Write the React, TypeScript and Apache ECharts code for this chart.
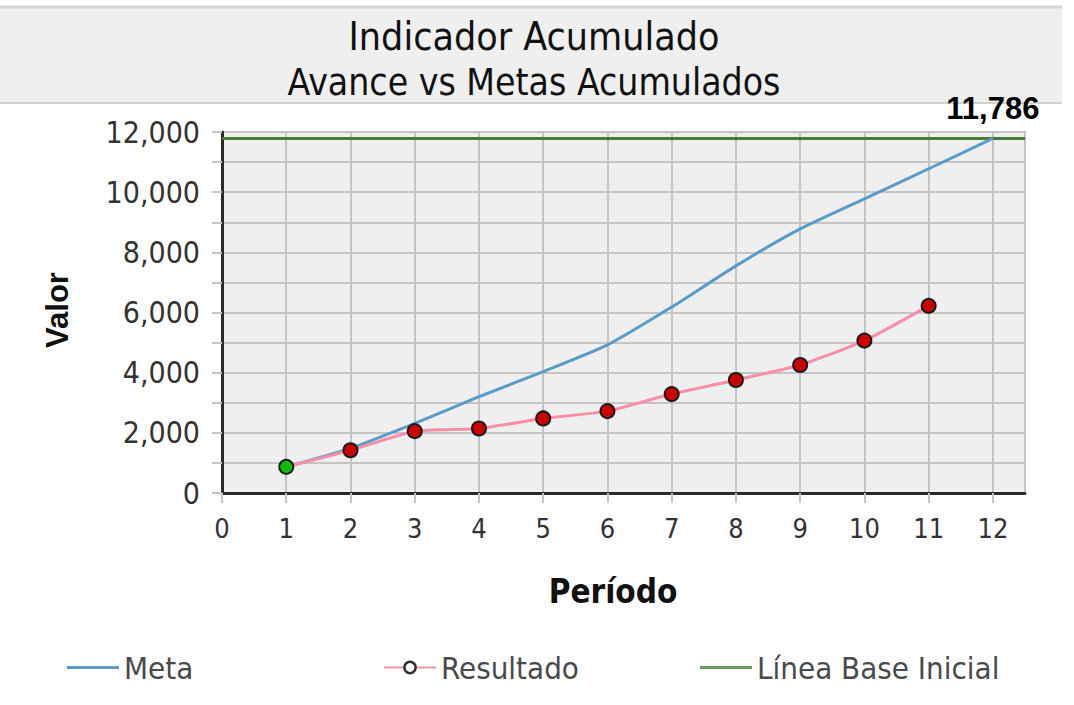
import React, { useEffect, useRef } from "react";
import * as echarts from "echarts";

const META_PERIODS = [1, 2, 3, 4, 5, 6, 7, 8, 9, 10, 11, 12];
const META_VALUES = [870, 1480, 2311, 3200, 4033, 4922, 6180, 7550, 8778, 9778, 10778, 11786];
const RESULT_PERIODS = [1, 2, 3, 4, 5, 6, 7, 8, 9, 10, 11];
const RESULT_VALUES = [870, 1420, 2055, 2144, 2478, 2722, 3289, 3756, 4256, 5067, 6222];
const BASELINE = 11786;
const X_MIN = 0;
const X_MAX = 12.5;
const Y_MIN = 0;
const Y_MAX = 12000;
const LABEL_PERIOD = 12;

const TITLE = "Indicador Acumulado";
const SUBTITLE = "Avance vs Metas Acumulados";
const X_NAME = "Período";
const Y_NAME = "Valor";
const NAMES = ["Meta", "Resultado", "Línea Base Inicial"];

const COND = '"DejaVu Sans Condensed", "DejaVu Sans", sans-serif';
const ARIAL = '"Liberation Sans", Arial, sans-serif';

export default function App() {
  const ref = useRef<HTMLDivElement>(null);
  useEffect(() => {
    if (!ref.current) return;
    const chart = echarts.init(ref.current, undefined, { renderer: "svg" });
    const fmt = (v: number) => v.toLocaleString("en-US");
    const legendBase = {
      top: 652,
      itemWidth: 52,
      itemHeight: 14,
      itemGap: 0,
      padding: 0,
      selectedMode: false,
      textStyle: { fontFamily: COND, fontSize: 31, color: "#4a4a4a", padding: [0, 0, 0, 0] },
    };
    const lineLegend = { ...legendBase, icon: "rect", itemHeight: 3 };
    chart.setOption({
      animation: false,
      backgroundColor: "#ffffff",
      grid: {
        left: 222,
        right: 49,
        top: 132,
        bottom: 212,
        show: true,
        backgroundColor: "#efefef",
        borderColor: "#cccccc",
        borderWidth: 2,
      },
      graphic: [
        { type: "rect", shape: { x: 0, y: 6, width: 1062, height: 97 }, style: { fill: "#efefef" }, silent: true },
        { type: "line", shape: { x1: 0, y1: 7, x2: 1062, y2: 7 }, style: { stroke: "#d6d6d6", lineWidth: 3 }, silent: true },
        { type: "line", shape: { x1: 0, y1: 103, x2: 1062, y2: 103 }, style: { stroke: "#d0d0d0", lineWidth: 2 }, silent: true },
        {
          type: "text", x: 534, y: 36, silent: true,
          style: { text: TITLE, fontFamily: COND, fontSize: 39, fill: "#111", align: "center", verticalAlign: "middle" },
        },
        {
          type: "text", x: 534, y: 82, silent: true,
          style: { text: SUBTITLE, fontFamily: COND, fontSize: 37, fill: "#111", align: "center", verticalAlign: "middle" },
        },
        {
          type: "text", x: 613, y: 591, silent: true,
          style: { text: X_NAME, fontFamily: COND, fontSize: 33, fontWeight: "bold", fill: "#111", align: "center", verticalAlign: "middle" },
        },
        {
          type: "text", x: 57, y: 310, rotation: Math.PI / 2, silent: true,
          style: { text: Y_NAME, fontFamily: ARIAL, fontSize: 31, fontWeight: "bold", fill: "#111", align: "center", verticalAlign: "middle" },
        },
      ],
      legend: [
        { ...lineLegend, left: 67, data: [{ name: NAMES[0] }] },
        {
          ...legendBase,
          left: 383,
          data: [{ name: NAMES[1], itemStyle: { color: "#ffffff", borderColor: "#333333", borderWidth: 2.5 } }],
        },
        { ...lineLegend, left: 700, data: [{ name: NAMES[2] }] },
      ],
      xAxis: {
        type: "value",
        min: X_MIN,
        max: X_MAX,
        interval: 1,
        axisLine: { show: true, onZero: false, lineStyle: { color: "#2a2a2a", width: 3 } },
        axisTick: { show: true, length: 10, lineStyle: { color: "#c4c4c4", width: 2 } },
        splitLine: { show: true, lineStyle: { color: "#c4c4c4", width: 2 } },
        axisLabel: {
          margin: 22,
          fontFamily: COND,
          fontSize: 27,
          color: "#333",
          showMaxLabel: false,
          formatter: (v: number) => (Number.isInteger(v) ? String(v) : ""),
        },
      },
      yAxis: {
        type: "value",
        min: Y_MIN,
        max: Y_MAX,
        interval: 1000,
        axisLine: { show: true, lineStyle: { color: "#2a2a2a", width: 3 } },
        axisTick: { show: true, length: 10, lineStyle: { color: "#c4c4c4", width: 2 } },
        splitLine: { show: true, lineStyle: { color: "#c4c4c4", width: 2 } },
        axisLabel: {
          margin: 22,
          fontFamily: COND,
          fontSize: 30,
          color: "#333",
          formatter: (v: number) => (v % 2000 === 0 ? fmt(v) : ""),
        },
      },
      series: [
        {
          name: NAMES[0],
          type: "line",
          smooth: 0.2,
          symbol: "none",
          data: META_PERIODS.map((p, i) => [p, META_VALUES[i]]),
          lineStyle: { color: "#5b9cc6", width: 3 },
          itemStyle: { color: "#5b9cc6" },
          z: 3,
        },
        {
          name: NAMES[2],
          type: "line",
          symbol: "none",
          data: [
            [X_MIN, BASELINE],
            [X_MAX, BASELINE],
          ],
          lineStyle: { color: "#4a7a35", width: 3 },
          itemStyle: { color: "#6b9a5a" },
          z: 2,
          markPoint: {
            symbol: "circle",
            symbolSize: 1,
            itemStyle: { color: "rgba(0,0,0,0)" },
            data: [{ coord: [LABEL_PERIOD, BASELINE] }],
            label: {
              show: true,
              position: "top",
              distance: 14,
              formatter: () => fmt(BASELINE),
              fontFamily: ARIAL,
              fontWeight: "bold",
              fontSize: 31,
              color: "#000",
            },
          },
        },
        {
          name: NAMES[1],
          type: "line",
          smooth: 0.2,
          symbol: "circle",
          symbolSize: 14,
          showAllSymbol: true,
          data: RESULT_PERIODS.map((p, i) =>
            i === 0
              ? { value: [p, RESULT_VALUES[i]], itemStyle: { color: "#11bb11" } }
              : [p, RESULT_VALUES[i]]
          ),
          lineStyle: { color: "#f590a8", width: 3 },
          itemStyle: { color: "#cc0000", borderColor: "#1a1a1a", borderWidth: 2 },
          z: 4,
        },
      ],
    });
    return () => chart.dispose();
  }, []);
  return (
    <div
      ref={ref}
      style={{ position: "fixed", left: 0, top: 0, width: 1074, height: 705 }}
    />
  );
}
